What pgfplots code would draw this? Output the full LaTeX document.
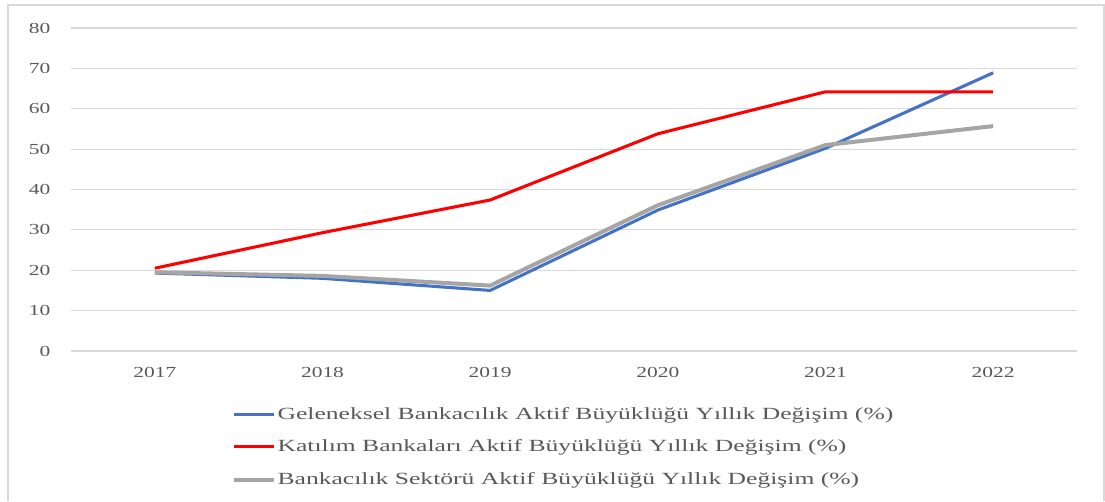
\documentclass[border=0pt]{standalone}
\usepackage{pgfplots}
\pgfplotsset{compat=1.18}
\usepackage{fontspec}
\setmainfont[FakeStretch=1.4]{Liberation Serif}
\newfontfamily\legfont[FakeStretch=1.5]{Liberation Serif}
\definecolor{tx}{HTML}{595959}
\definecolor{gr}{HTML}{D9D9D9}
\definecolor{cblue}{HTML}{4472C4}
\definecolor{cred}{HTML}{FF0000}
\definecolor{cgray}{HTML}{A5A5A5}
\begin{document}
\begin{tikzpicture}
\path (0,0) rectangle (828.75pt,375.75pt);
\draw[gray!30, line width=1pt] (6pt,0) -- (6pt,372pt) -- (828pt,372pt) -- (828pt,0);
\begin{axis}[
  at={(53.25pt,112.5pt)}, anchor=south west,
  scale only axis, width=754.5pt, height=242.25pt,
  xmin=-0.5, xmax=5.5, ymin=0, ymax=80,
  xtick={0,1,2,3,4,5},
  xticklabels={2017,2018,2019,2020,2021,2022},
  ytick={0,10,...,80},
  ymajorgrids, major grid style={gr, line width=0.9pt},
  axis line style={draw=none},
  major tick length=0pt,
  tick label style={font=\fontsize{11.5}{13}\selectfont, text=tx},
  /pgf/number format/assume math mode=true,
  xticklabel style={yshift=-9pt},
  yticklabel style={xshift=-12pt},
  clip=false,
  legend style={at={(0.16,-0.165)}, anchor=north west, draw=none, fill=none,
    inner sep=0pt, row sep=10pt, font=\legfont\fontsize{12.8}{13}\selectfont, text=tx,
    nodes={inner xsep=1pt},
    cells={anchor=west}},
  legend cell align=left,
  legend image code/.code={\draw[#1] (0pt,0pt) -- (30pt,0pt);},
]
\addplot[cblue, line width=2.3pt, line join=round] coordinates {(0,19.3) (1,18) (2,15) (3,34.9) (4,50.2) (5,68.9)};
\addlegendentry{Geleneksel Bankacılık Aktif Büyüklüğü Yıllık Değişim (\%)}
\addplot[cred, line width=2.3pt, line join=round] coordinates {(0,20.5) (1,29.3) (2,37.4) (3,53.8) (4,64.2) (5,64.2)};
\addlegendentry{Katılım Bankaları Aktif Büyüklüğü Yıllık Değişim (\%)}
\addplot[cgray, line width=3pt, line join=round] coordinates {(0,19.5) (1,18.6) (2,16.2) (3,36.1) (4,51) (5,55.7)};
\addlegendentry{Bankacılık Sektörü Aktif Büyüklüğü Yıllık Değişim (\%)}
\end{axis}
\end{tikzpicture}
\end{document}
